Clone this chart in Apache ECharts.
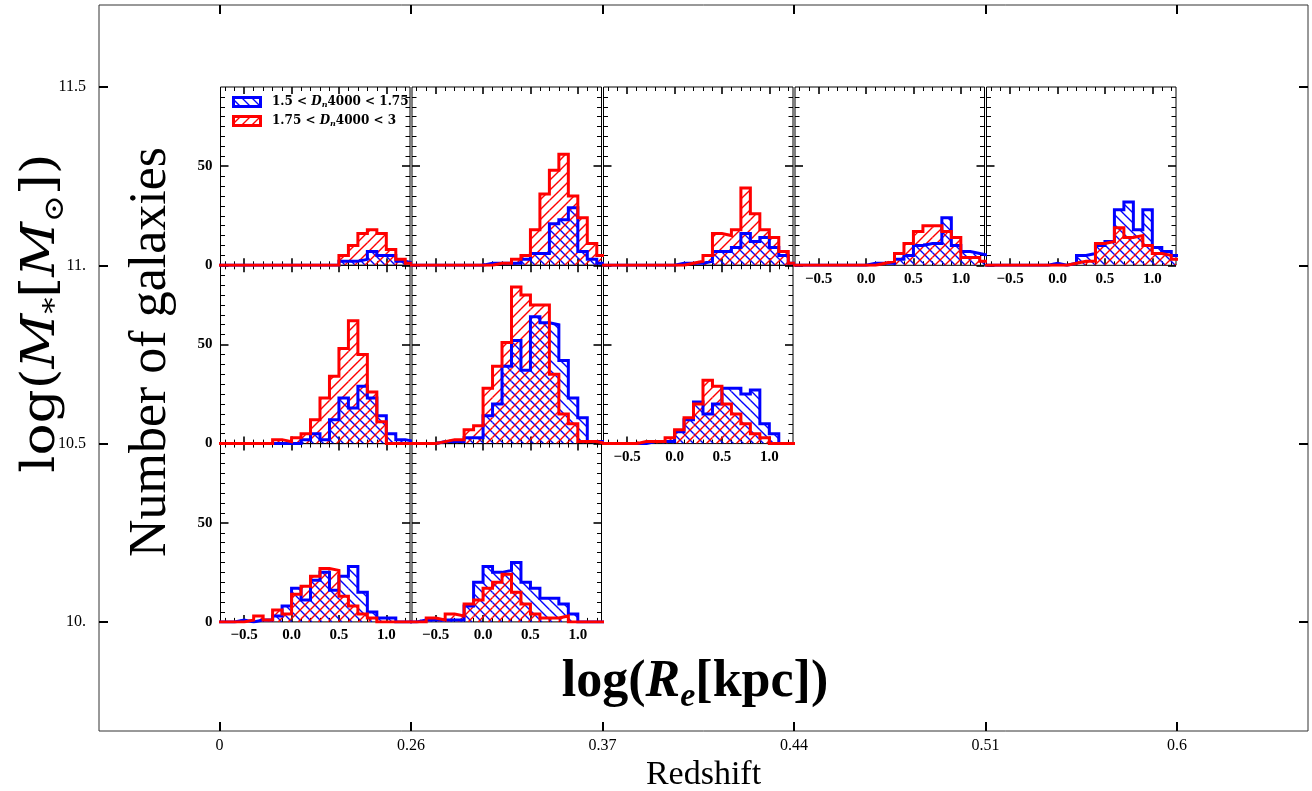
<!DOCTYPE html>
<html><head><meta charset="utf-8">
<script src="https://cdn.jsdelivr.net/npm/echarts@6/dist/echarts.min.js"></script>
<style>html,body{margin:0;padding:0;background:#fff}#c{width:1312px;height:791px}</style>
</head><body><div id="c"></div>
<script>
// ---------------- DATA ----------------
const binEdges = [-0.8,-0.7,-0.6,-0.5,-0.4,-0.3,-0.2,-0.1,0.0,0.1,0.2,0.3,0.4,0.5,0.6,0.7,0.8,0.9,1.0,1.1,1.2,1.3];
const redshiftTickPos = [0,1,2,3,4,5];
const redshiftTicks = ['0','0.26','0.37','0.44','0.51','0.6'];
const massTicks = [10, 10.5, 11, 11.5];
const massTickLabels = ['10.','10.5','11.','11.5'];
const sizeMajorTicks = [-0.5, 0, 0.5, 1.0];
const sizeMinorTicks = [-0.7,-0.6,-0.4,-0.3,-0.2,-0.1,0.1,0.2,0.3,0.4,0.6,0.7,0.8,0.9,1.1,1.2];
const countMajorTicks = [0, 50];
const countMinorTicks = [5,10,15,20,25,30,35,40,45,55,60,65,70,75,80,85];
const legendNames = ['1.5 < Dn4000 < 1.75', '1.75 < Dn4000 < 3'];

// counts per bin (bins between consecutive binEdges)
// row 0: log M 11.0-11.5
const blue_P1  = [0,0,0,0,0,0,0,0,0,0,0,0,0,2,2,3,7,5,5,2,1];
const red_P1   = [0,0,0,0,0,0,0,0,0,0,0,0,0,5,10,16,18,16,8,3,1];
const blue_P2  = [0,0,0,0,0,0,0,0,1,1,1,1,3,6,6,21,23,29,7,3,1];
const red_P2   = [0,0,0,0,0,0,0,0,0,1,1,3,5,18,36,48,56,35,24,11,5];
const blue_P3  = [0,0,0,0,0,0,0,0,1,1,1,2,7,7,9,16,12,14,9,5,1];
const red_P3   = [0,0,0,0,0,0,0,0,0,1,2,5,16,15,18,39,26,18,14,7,1];
const blue_P4  = [0,0,0,0,0,0,0,0,1,1,1,3,5,10,11,11,24,10,7,6,5];
const red_P4   = [0,0,0,0,0,0,0,0,0,1,2,6,11,17,20,20,17,14,4,4,2];
const blue_P5  = [0,0,0,0,0,0,0,1,0,1,5,6,10,12,28,32,18,28,9,7,5];
const red_P5   = [0,0,0,0,0,0,0,0,0,1,2,2,11,12,19,14,15,10,6,5,3];
// row 1: log M 10.5-11.0
const blue_P6  = [0,0,0,0,0,0,0,0,0,2,5,2,12,23,18,29,23,14,5,2,1];
const red_P6   = [0,0,0,0,0,0,2,1,3,5,12,23,34,48,62,45,26,11,0,0,0];
const blue_P7  = [0,0,0,1,1,1,3,3,14,20,39,52,37,64,61,60,42,23,13,1,1];
const red_P7   = [0,0,0,1,2,2,7,9,28,39,51,79,75,70,70,35,15,10,1,1,0];
const blue_P8  = [0,0,0,0,0,1,1,1,6,12,21,15,20,28,28,25,27,10,5,0,0];
const red_P8   = [0,0,0,0,1,1,1,3,7,13,20,32,29,20,15,10,5,3,0,0,0];
// row 2: log M 10.0-10.5
const blue_P9  = [0,0,1,0,1,1,3,8,17,11,21,25,16,23,28,15,5,2,2,0,0];
const red_P9   = [0,0,0,1,3,1,6,4,14,18,23,27,26,13,8,4,2,0,0,0,0];
const blue_P10 = [0,1,1,1,1,1,8,20,28,25,26,30,20,17,12,12,9,4,0,0,0];
const red_P10  = [0,0,2,1,4,3,9,11,17,20,24,15,9,4,2,2,3,0,0,0,0];

const panelRows = [0,0,0,0,0,1,1,1,2,2];
const panelCols = [0,1,2,3,4,0,1,2,0,1];
const panelBlue = [blue_P1,blue_P2,blue_P3,blue_P4,blue_P5,blue_P6,blue_P7,blue_P8,blue_P9,blue_P10];
const panelRed  = [red_P1,red_P2,red_P3,red_P4,red_P5,red_P6,red_P7,red_P8,red_P9,red_P10];

// ---------------- LAYOUT / STYLE ----------------
const SERIF = "'Liberation Serif','DejaVu Serif',serif";
const DSERIF = "'DejaVu Serif','Liberation Serif',serif";
const colLeft = [220.5, 412, 603.5, 795, 986.5];
const rowTop = [87, 265.3, 443.6];
const panelW = 189.5, panelH = 178.3;
const HATCH_STEP = 10, HATCH_WIDTH = 1.4;

function stepData(counts) {
  const d = counts.map((c, i) => [binEdges[i], c]);
  d.push([binEdges[binEdges.length - 1], counts[counts.length - 1]]);
  return d;
}
function binData(counts) {
  const d = [];
  counts.forEach((c, i) => { if (c > 0) d.push([binEdges[i], binEdges[i + 1], c]); });
  return d;
}
// hatch lines inside each histogram bar, on a global pixel lattice
function hatchRenderer(color, forward) {
  return function (params, api) {
    const pA = api.coord([api.value(0), 0]);
    const pB = api.coord([api.value(1), api.value(2)]);
    const cs = params.coordSys;
    const left = Math.max(pA[0], cs.x), right = Math.min(pB[0], cs.x + cs.width);
    const bottom = pA[1], top = Math.max(pB[1], cs.y);
    if (right <= left || bottom <= top) return null;
    const S = HATCH_STEP, children = [];
    if (forward) {
      for (let c = Math.ceil((left + top) / S) * S; c <= right + bottom; c += S) {
        const xa = Math.max(left, c - bottom), xb = Math.min(right, c - top);
        if (xb > xa) children.push({type: 'line', shape: {x1: xa, y1: c - xa, x2: xb, y2: c - xb},
          style: {stroke: color, lineWidth: HATCH_WIDTH, fill: null}});
      }
    } else {
      for (let c = Math.ceil((top - right) / S) * S; c <= bottom - left; c += S) {
        const xa = Math.max(left, top - c), xb = Math.min(right, bottom - c);
        if (xb > xa) children.push({type: 'line', shape: {x1: xa, y1: xa + c, x2: xb, y2: xb + c},
          style: {stroke: color, lineWidth: HATCH_WIDTH, fill: null}});
      }
    }
    return {type: 'group', children};
  };
}
function legendIcon(color, forward) {
  const W = 30, H = 12;
  const cv = document.createElement('canvas'); cv.width = W; cv.height = H;
  const g = cv.getContext('2d');
  g.strokeStyle = color; g.lineWidth = HATCH_WIDTH; g.beginPath();
  for (let c = -H; c <= W + H; c += 10) {
    if (forward) { g.moveTo(c, H); g.lineTo(c + H, 0); } else { g.moveTo(c, 0); g.lineTo(c + H, H); }
  }
  g.stroke();
  g.lineWidth = 3; g.strokeRect(1.5, 1.5, W - 3, H - 3);
  return 'image://' + cv.toDataURL();
}

const fmtSize = v => (v < -1e-9 ? '\u2212' : '') + Math.abs(v).toFixed(1);
const has = (r, c) => panelRows.some((rr, i) => rr === r && panelCols[i] === c);

const grid = [], xAxis = [], yAxis = [], series = [];
const noLine = {show: false, onZero: false};

// outer frame
grid.push({left: 99, top: 5, width: 1209, height: 726, show: true, borderColor: '#333', borderWidth: 1,
  backgroundColor: 'transparent', containLabel: false, outerBoundsMode: 'none'});
const outerTick = {show: true, inside: true, length: 9, lineStyle: {color: '#000', width: 2}};
xAxis.push({type: 'value', gridIndex: 0, position: 'bottom', min: -0.6292, max: 5.6841,
  axisLine: noLine, splitLine: {show: false},
  axisTick: Object.assign({customValues: redshiftTickPos}, outerTick),
  axisLabel: {customValues: redshiftTickPos, formatter: v => redshiftTicks[Math.round(v)],
    fontFamily: SERIF, fontSize: 16, color: '#000', margin: 7},
  name: 'Redshift', nameLocation: 'middle', nameGap: 27, nameMoveOverlap: false,
  nameTextStyle: {fontFamily: SERIF, fontSize: 34, color: '#000'}});
xAxis.push({type: 'value', gridIndex: 0, position: 'top', min: -0.6292, max: 5.6841,
  axisLine: noLine, splitLine: {show: false},
  axisTick: Object.assign({customValues: redshiftTickPos}, outerTick),
  axisLabel: {show: false}});
const massFmt = v => { const i = massTicks.findIndex(m => Math.abs(m - v) < 1e-6); return i >= 0 ? massTickLabels[i] : ''; };
yAxis.push({type: 'value', gridIndex: 0, position: 'left', min: 9.6944, max: 11.7299,
  axisLine: noLine, splitLine: {show: false},
  axisTick: Object.assign({customValues: massTicks}, outerTick),
  axisLabel: {customValues: massTicks, formatter: massFmt, fontFamily: SERIF, fontSize: 16, color: '#000', margin: 13}});
yAxis.push({type: 'value', gridIndex: 0, position: 'right', min: 9.6944, max: 11.7299,
  axisLine: noLine, splitLine: {show: false},
  axisTick: Object.assign({customValues: massTicks}, outerTick),
  axisLabel: {show: false}});

const majorTickStyle = {color: '#000', width: 1.6};
const minorTickStyle = {color: '#000', width: 1};
const tickLabelStyle = {fontFamily: SERIF, fontWeight: 'bold', fontSize: 15, color: '#000'};

for (let p = 0; p < panelRows.length; p++) {
  const r = panelRows[p], c = panelCols[p];
  const gi = grid.length;
  grid.push({left: colLeft[c], top: rowTop[r], width: panelW, height: panelH, show: true,
    borderColor: '#000', borderWidth: 1, backgroundColor: 'transparent', containLabel: false, outerBoundsMode: 'none'});
  const showX = !has(r + 1, c);
  const showY = c === 0;
  const xi = xAxis.length, yi = yAxis.length;
  const xBase = {type: 'value', gridIndex: gi, min: -0.75, max: 1.25, axisLine: noLine, splitLine: {show: false}};
  const yBase = {type: 'value', gridIndex: gi, min: 0, max: 90, axisLine: noLine, splitLine: {show: false}};
  ['bottom', 'top'].forEach(pos => {
    xAxis.push(Object.assign({}, xBase, {position: pos,
      axisTick: {show: true, inside: true, length: 7, customValues: sizeMajorTicks, lineStyle: majorTickStyle},
      axisLabel: Object.assign({show: pos === 'bottom' && showX, customValues: sizeMajorTicks, formatter: fmtSize, margin: 6}, tickLabelStyle)}));
    xAxis.push(Object.assign({}, xBase, {position: pos,
      axisTick: {show: true, inside: true, length: 4, customValues: sizeMinorTicks, lineStyle: minorTickStyle},
      axisLabel: {show: false}}));
  });
  ['left', 'right'].forEach(pos => {
    yAxis.push(Object.assign({}, yBase, {position: pos,
      axisTick: {show: true, inside: true, length: 8, customValues: countMajorTicks, lineStyle: majorTickStyle},
      axisLabel: Object.assign({show: pos === 'left' && showY, customValues: countMajorTicks, margin: 8}, tickLabelStyle)}));
    yAxis.push(Object.assign({}, yBase, {position: pos,
      axisTick: {show: true, inside: true, length: 4.5, customValues: countMinorTicks, lineStyle: minorTickStyle},
      axisLabel: {show: false}}));
  });
  [[panelBlue[p], '#0000ff', false, legendNames[0]], [panelRed[p], '#ff0000', true, legendNames[1]]].forEach(([cnt, col, fwd, nm]) => {
    series.push({type: 'custom', name: nm, xAxisIndex: xi, yAxisIndex: yi, data: binData(cnt),
      dimensions: ['x0', 'x1', 'n'], encode: {x: [0, 1], y: 2},
      renderItem: hatchRenderer(col, fwd), silent: true, animation: false, clip: true, z: 3, color: col});
    series.push({type: 'line', name: nm, xAxisIndex: xi, yAxisIndex: yi, data: stepData(cnt), step: 'end',
      symbol: 'none', showSymbol: false, clip: true, silent: true, animation: false,
      color: col, lineStyle: {color: col, width: 3, join: 'miter'}, itemStyle: {color: col}, z: 3});
  });
}

const legendRich = {
  a: {fontFamily: DSERIF, fontWeight: 'bold', fontSize: 12, color: '#000', lineHeight: 14},
  p: {fontFamily: DSERIF, fontWeight: 'bold', fontSize: 12, color: '#000', lineHeight: 14, padding: [0, 0, 0, 5]},
  i: {fontFamily: DSERIF, fontWeight: 'bold', fontStyle: 'italic', fontSize: 12, color: '#000', lineHeight: 14},
  s: {fontFamily: DSERIF, fontWeight: 'bold', fontStyle: 'italic', fontSize: 8, color: '#000', lineHeight: 8, verticalAlign: 'bottom'}
};

const option = {
  animation: false,
  backgroundColor: '#fff',
  grid, xAxis, yAxis, series,
  legend: {
    left: 232, top: 96, orient: 'vertical', itemGap: 6, itemWidth: 30, itemHeight: 12,
    selectedMode: false, padding: 0,
    data: [
      {name: legendNames[0], icon: legendIcon('#0000ff', false)},
      {name: legendNames[1], icon: legendIcon('#ff0000', true)}
    ],
    formatter: n => n === legendNames[0] ? '{p|1.5 < }{i|D}{s|n}{a|4000 < 1.75}' : '{p|1.75 < }{i|D}{s|n}{a|4000 < 3}',
    textStyle: {rich: legendRich}
  },
  graphic: [
    {type: 'text', x: 42, y: 313, rotation: Math.PI / 2, scaleX: 1.16, silent: true,
      style: {text: '{a|log(}{i|M}{s|*}{a|[}{i|M}{s|\u2299}{a|])}', align: 'center', verticalAlign: 'middle',
        rich: {a: {fontFamily: DSERIF, fontSize: 46, lineHeight: 56, fill: '#000'},
               i: {fontFamily: DSERIF, fontSize: 46, fontStyle: 'italic', lineHeight: 56, fill: '#000'},
               s: {fontFamily: DSERIF, fontSize: 28, lineHeight: 28, verticalAlign: 'bottom', fill: '#000'}}}},
    {type: 'text', x: 151, y: 352, rotation: Math.PI / 2, silent: true,
      style: {text: 'Number of galaxies', fontFamily: SERIF, fontSize: 52, fill: '#000', align: 'center', verticalAlign: 'middle'}},
    {type: 'text', x: 695, y: 683, silent: true,
      style: {text: '{a|log(}{b|R}{c|e}{a|[kpc])}', align: 'center', verticalAlign: 'middle',
        rich: {a: {fontFamily: SERIF, fontWeight: 'bold', fontSize: 52, lineHeight: 62, fill: '#000'},
               b: {fontFamily: SERIF, fontWeight: 'bold', fontStyle: 'italic', fontSize: 52, lineHeight: 62, fill: '#000'},
               c: {fontFamily: SERIF, fontWeight: 'bold', fontStyle: 'italic', fontSize: 34, lineHeight: 32, verticalAlign: 'bottom', fill: '#000'}}}}
  ]
};
const chart = echarts.init(document.getElementById('c'), null, {renderer: 'canvas', width: 1312, height: 791});
chart.setOption(option);
</script>
</body></html>
